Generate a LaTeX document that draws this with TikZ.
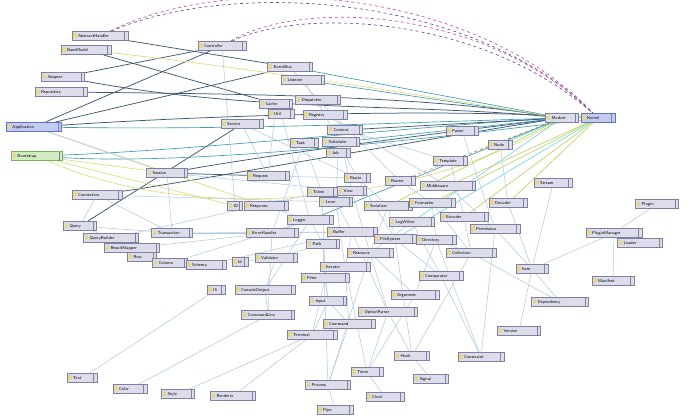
\documentclass[tikz,border=0pt]{standalone}
\usepackage{xcolor}
\usepackage{tikz}
\usetikzlibrary{backgrounds}
\definecolor{boxfill}{HTML}{DCDCEA}
\definecolor{boxline}{HTML}{8080A0}
\definecolor{iconc}{HTML}{E6D68C}
\definecolor{selfill}{HTML}{C4CBF0}
\definecolor{selline}{HTML}{6070C8}
\definecolor{grnfill}{HTML}{D2ECC2}
\definecolor{grnline}{HTML}{72B45A}
\definecolor{depc}{HTML}{AEC8E0}
\definecolor{dkc}{HTML}{3E5870}
\definecolor{tlc}{HTML}{3F9BB0}
\definecolor{cyc}{HTML}{7CD3E4}
\definecolor{limec}{HTML}{BBD45E}
\definecolor{yelc}{HTML}{DCDC78}
\definecolor{magc}{HTML}{C8509A}
\definecolor{navyc}{HTML}{5A4FA0}
\definecolor{ornc}{HTML}{D39A55}
\tikzset{
  box/.style={rectangle,draw=boxline,fill=boxfill,line width=0.55pt,
    minimum height=9.5pt,inner xsep=1pt,inner ysep=1.2pt,align=left,
    font=\fontsize{4.3}{4.8}\selectfont\sffamily,
    execute at begin node={\hspace*{5pt}},
    path picture={\fill[iconc] ([shift={(1.3pt,-2.2pt)}]path picture bounding box.north west) rectangle ++(3.2pt,-4.6pt);
      \draw[boxline,line width=0.4pt] ([xshift=-3.5pt]path picture bounding box.north east) -- ([xshift=-3.5pt]path picture bounding box.south east);}},
  bw/.style={text width=#1 pt},
  sel/.style={box,fill=selfill,draw=selline},
  grn/.style={box,fill=grnfill,draw=grnline}}

\begin{document}
\begin{tikzpicture}[x=1pt,y=-1pt,
  dep/.style={depc,line width=0.5pt},
  dk/.style={dkc,line width=0.75pt},
  tl/.style={tlc,line width=0.65pt},
  cy/.style={cyc,line width=0.65pt},
  lime/.style={limec,line width=0.65pt},
  yl/.style={yelc,line width=0.65pt},
  mag/.style={magc,line width=0.65pt,dashed},
  navy/.style={navyc,line width=0.65pt,dashed},
  orn/.style={ornc,line width=0.6pt,dashed}]
  \useasboundingbox (0,0) rectangle (692,419);

  % top left
  \node[box,bw=54] (a1) at (100,36) {AbstractHandler};
  \node[box,bw=48] (a2) at (86,50) {BaseModel};
  \node[box,bw=46] (a3) at (222,46) {Controller};
  \node[box,bw=43] (a4) at (290,67) {EventBus};
  \node[box,bw=41] (a5) at (303,80) {Listener};
  \node[box,bw=41] (a6) at (63,77) {Adapter};
  \node[box,bw=50] (a7) at (61,92) {Repository};
  \node[sel,bw=53] (a8) at (34,127) {Application};
  \node[box,bw=40] (a9) at (242,124) {Service};
  \node[grn,bw=49] (g1) at (37,156) {Bootstrap};
  % upper centre
  \node[box,bw=31] (b1) at (276,104) {Cache};
  \node[box,bw=43] (b2) at (318,100) {Dispatcher};
  \node[box,bw=24] (b3) at (281,114) {Util};
  \node[box,bw=42] (b4) at (325,115) {Registry};
  \node[box,bw=33] (b5) at (345,130) {Context};
  \node[box,bw=26] (b6) at (304,143) {Task};
  \node[box,bw=35] (b7) at (341,142) {Scheduler};
  \node[box,bw=22] (b8) at (338,153) {Job};
  % right
  \node[box,bw=31] (r1) at (562,118) {Module};
  \node[sel,bw=32] (r2) at (598,118) {Kernel};
  % left middle
  \node[box,bw=39] (c1) at (167,173) {Session};
  \node[box,bw=48] (c2) at (97,195) {Connection};
  \node[box,bw=40] (c3) at (268,176) {Request};
  \node[box,bw=13] (c4) at (235,206) {IO};
  \node[box,bw=42] (c5) at (266,206) {Response};
  \node[box,bw=31] (c6) at (80,226) {Query};
  \node[box,bw=53] (c7) at (111,238) {QueryBuilder};
  \node[box,bw=53] (c8) at (132,248) {ResultMapper};
  \node[box,bw=27] (c9) at (142,257) {Row};
  \node[box,bw=33] (c10) at (170,263) {Column};
  \node[box,bw=38] (c11) at (206,265) {Schema};
  \node[box,bw=14] (c12) at (240,262) {Id};
  \node[box,bw=40] (c13) at (276,258) {Validator};
  \node[box,bw=39] (c14) at (172,233) {Transaction};
  \node[box,bw=50] (c15) at (272,233) {ErrorHandler};
  % centre
  \node[box,bw=24] (d1) at (357,178) {Route};
  \node[box,bw=28] (d2) at (400,181) {Router};
  \node[box,bw=53] (d3) at (448,186) {Middleware};
  \node[box,bw=27] (d4) at (352,191) {View};
  \node[box,bw=32] (d5) at (450,161) {Template};
  \node[box,bw=22] (d6) at (500,145) {Node};
  \node[box,bw=30] (d7) at (462,131) {Parser};
  \node[box,bw=28] (d8) at (322,192) {Token};
  \node[box,bw=31] (d10) at (336,202) {Lexer};
  \node[box,bw=46] (d11) at (388,206) {Serializer};
  \node[box,bw=44] (d12) at (432,203) {Formatter};
  \node[box,bw=44] (d13) at (310,220) {Logger};
  \node[box,bw=43] (d14) at (412,222) {LogWriter};
  \node[box,bw=46] (d15) at (464,217) {Encoder};
  \node[box,bw=36] (d16) at (508,203) {Decoder};
  \node[box,bw=36] (d17) at (553,183) {Stream};
  \node[box,bw=48] (d18) at (352,232) {Buffer};
  \node[box,bw=40] (d19) at (395,239) {FileSystem};
  \node[box,bw=38] (d20) at (436,240) {Directory};
  \node[box,bw=48] (d21) at (495,229) {Permission};
  \node[box,bw=31] (d22) at (323,244) {Path};
  \node[box,bw=44] (d23) at (370,253) {Resource};
  \node[box,bw=48] (d24) at (471,253) {Collection};
  \node[box,bw=48] (d25) at (345,267) {Iterator};
  \node[box,bw=46] (d26) at (325,278) {Filter};
  \node[box,bw=42] (d27) at (441,276) {Comparator};
  \node[box,bw=30] (d28) at (532,269) {Item};
  % right cluster
  \node[box,bw=41] (e1) at (657,204) {Plugin};
  \node[box,bw=54] (e2) at (614,233) {PluginManager};
  \node[box,bw=43] (e3) at (640,243) {Loader};
  \node[box,bw=40] (e4) at (613,281) {Manifest};
  % bottom
  \node[box,bw=16] (f1) at (216,290) {Ui};
  \node[box,bw=58] (f2) at (265,290) {ConsoleOutput};
  \node[box,bw=35] (f3) at (328,301) {Input};
  \node[box,bw=46] (f4) at (415,295) {Argument};
  \node[box,bw=51] (f5) at (268,315) {CommandLine};
  \node[box,bw=57] (f6) at (388,312) {OptionParser};
  \node[box,bw=50] (f7) at (349,324) {Command};
  \node[box,bw=48] (f8) at (312,335) {Terminal};
  \node[box,bw=55] (f9) at (560,302) {Dependency};
  \node[box,bw=41] (f10) at (519,331) {Version};
  \node[box,bw=44] (f11) at (481,357) {Constraint};
  \node[box,bw=33] (f12) at (412,356) {Hook};
  \node[box,bw=33] (f13) at (431,379) {Signal};
  \node[box,bw=30] (f14) at (367,372) {Timer};
  \node[box,bw=36] (f15) at (385,397) {Clock};
  \node[box,bw=43] (f16) at (328,385) {Process};
  \node[box,bw=34] (f17) at (335,410) {Pipe};
  \node[box,bw=28] (f18) at (82,378) {Text};
  \node[box,bw=32] (f19) at (130,389) {Color};
  \node[box,bw=31] (f20) at (178,394) {Style};
  \node[box,bw=43] (f21) at (233,396) {Renderer};

  \begin{scope}[on background layer]
    \fill[white] (0,0) rectangle (692,419);
    % long arcs
    \draw[mag] (a1) .. controls (230,-28) and (470,-15) .. (r2);
    \draw[navy] (a1) .. controls (230,-20) and (470,-8) .. (r2);
    \draw[mag] (a3) .. controls (300,0) and (480,5) .. (r2);
    \draw[navy] (a3) .. controls (300,8) and (480,14) .. (r2);
    % dark and coloured
    \draw[dk] (a1) -- (a4); \draw[dk] (a6) -- (a3); \draw[dk] (a8) -- (a3); \draw[dk] (a8) -- (a4);
    \draw[dk] (a2) -- (b1); \draw[dk] (c6) -- (a9); \draw[dk] (c1) -- (c3);
    \draw[dk] (a6) .. controls (250,112) and (420,104) .. (r1);
    \draw[dk] (a7) .. controls (250,94) and (420,96) .. (r1);
    \draw[tl] (a8) .. controls (250,130) and (420,122) .. (r1);
    \draw[dk] (a8) .. controls (200,116) and (430,108) .. (r2);
    \draw[tl] (a4) -- (r1); \draw[tl] (a5) -- (r1);
    \draw[dk] (c2) .. controls (200,180) and (420,140) .. (r1);
    \draw[dk] (c1) .. controls (300,150) and (450,132) .. (r1);
    \draw[tl] (g1) .. controls (200,150) and (420,126) .. (r1);
    \draw[tl] (g1) .. controls (200,166) and (450,136) .. (r2);
    \draw[yl] (g1) -- (c1); \draw[yl] (g1) -- (c4); \draw[yl] (a8) -- (c5);
    \draw[yl] (g1) .. controls (200,228) and (430,200) .. (r1);
    \draw[yl] (a2) .. controls (250,68) and (420,95) .. (r1);
    \draw[cy] (d14) -- (r1); \draw[cy] (d19) -- (r2); \draw[cy] (d6) -- (r1);
    \draw[lime] (d12) -- (r2); \draw[lime] (d15) -- (r2); \draw[lime] (d11) -- (r1);
    \draw[lime] (d3) -- (r2); \draw[lime] (d16) -- (r2);
    \draw[orn] (d5) -- (r1); \draw[orn] (d2) -- (r1);
    \draw[tl] (b7) -- (r1); \draw[dk] (b5) -- (r1); \draw[tl] (d13) -- (r1);
    % light dependencies
    \draw[dep] (a4) -- (b2); \draw[dep] (a5) -- (b4); \draw[dep] (a9) -- (b3); \draw[dep] (b1) -- (c3);
    \draw[dep] (b4) -- (d1); \draw[dep] (b5) -- (d5); \draw[dep] (b6) -- (d8); \draw[dep] (b7) -- (d4);
    \draw[dep] (b8) -- (d10); \draw[dep] (c1) -- (c14); \draw[dep] (c2) -- (c6); \draw[dep] (c2) -- (c14);
    \draw[dep] (c6) -- (c7); \draw[dep] (c7) -- (c8); \draw[dep] (c8) -- (c9); \draw[dep] (c9) -- (c10);
    \draw[dep] (c10) -- (c11); \draw[dep] (c11) -- (c12); \draw[dep] (c12) -- (c13); \draw[dep] (c14) -- (c15);
    \draw[dep] (c15) -- (d13); \draw[dep] (c13) -- (d22); \draw[dep] (c13) -- (f2); \draw[dep] (c15) -- (f5);
    \draw[dep] (c5) -- (d13); \draw[dep] (c3) -- (d1); \draw[dep] (d1) -- (d11); \draw[dep] (d2) -- (d12);
    \draw[dep] (d4) -- (d10); \draw[dep] (d10) -- (d18); \draw[dep] (d11) -- (d19); \draw[dep] (d12) -- (d20);
    \draw[dep] (d13) -- (d22); \draw[dep] (d14) -- (d23); \draw[dep] (d15) -- (d24); \draw[dep] (d16) -- (d28);
    \draw[dep] (d17) -- (d28); \draw[dep] (d18) -- (d25); \draw[dep] (d19) -- (d27); \draw[dep] (d20) -- (d24);
    \draw[dep] (d21) -- (d28); \draw[dep] (d22) -- (f3); \draw[dep] (d23) -- (f4); \draw[dep] (d24) -- (f9);
    \draw[dep] (d25) -- (f7); \draw[dep] (d26) -- (f3); \draw[dep] (d27) -- (f11); \draw[dep] (d28) -- (f10);
    \draw[dep] (d28) -- (f9); \draw[dep] (d28) -- (e2); \draw[dep] (e2) -- (e1); \draw[dep] (e2) -- (e3);
    \draw[dep] (e2) -- (e4); \draw[dep] (f1) -- (f18); \draw[dep] (f5) -- (f19); \draw[dep] (f8) -- (f20);
    \draw[dep] (f8) -- (f21); \draw[dep] (f6) -- (f12); \draw[dep] (f12) -- (f13); \draw[dep] (f16) -- (f17);
    \draw[dep] (f14) -- (f15); \draw[dep] (f4) -- (f14); \draw[dep] (f6) -- (f14); \draw[dep] (f7) -- (f8);
    \draw[dep] (f3) -- (f7); \draw[dep] (f2) -- (f5); \draw[dep] (d6) -- (d16); \draw[dep] (d7) -- (d21);
    \draw[dep] (d5) -- (d15); \draw[dep] (f7) -- (f16); \draw[dep] (d24) -- (f12); \draw[dep] (d21) -- (f11);
    \draw[dep] (a3) -- (c4); \draw[dep] (a9) -- (c3); \draw[dep] (b6) -- (c15); \draw[dep] (b3) -- (d13);
    \draw[dep] (a8) -- (c1); \draw[dep] (c1) -- (d4); \draw[dep] (c14) -- (d18); \draw[dep] (d3) -- (d21);
    \draw[dep] (d8) -- (d26); \draw[dep] (d23) -- (f6); \draw[dep] (d26) -- (f8); \draw[dep] (d20) -- (f4);
    \draw[dep] (c7) -- (d8); \draw[dep] (c8) -- (c15); \draw[dep] (c10) -- (d13); \draw[dep] (c11) -- (d18);
    \draw[dep] (c2) -- (d10); \draw[dep] (c6) -- (c14); \draw[dep] (a9) -- (d1); \draw[dep] (b2) -- (d2);
    \draw[dep] (b4) -- (d3); \draw[dep] (d1) -- (d19); \draw[dep] (d4) -- (d23); \draw[dep] (d10) -- (d25);
    \draw[dep] (d12) -- (d24); \draw[dep] (d14) -- (d27); \draw[dep] (d18) -- (f6); \draw[dep] (d22) -- (f16);
    \draw[dep] (d25) -- (f14); \draw[dep] (d19) -- (f12); \draw[dep] (d20) -- (f11); \draw[dep] (d13) -- (f2);
    \draw[dep] (c15) -- (d18); \draw[dep] (d11) -- (d23); \draw[dep] (f3) -- (f8); \draw[dep] (d23) -- (f16);
  \end{scope}
\end{tikzpicture}
\end{document}
